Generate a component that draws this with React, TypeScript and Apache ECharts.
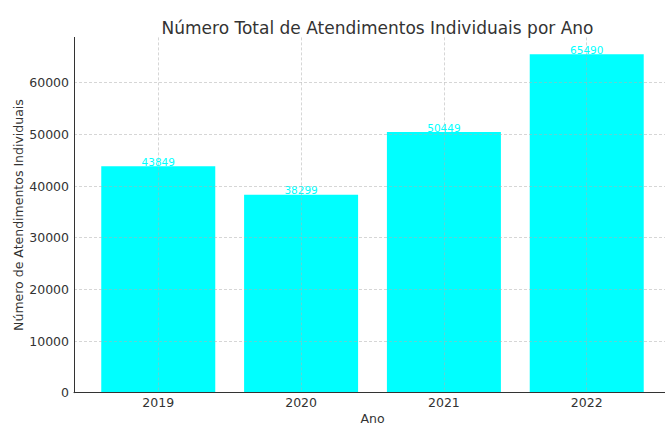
import React, { useEffect, useRef } from "react";
import * as echarts from "echarts";

const years = ["2019", "2020", "2021", "2022"];
const values = [43849, 38299, 50449, 65490];
const yMax = 68764.5;
const yInterval = 10000;

const FONT = "DejaVu Sans";
const TEXT = "#333333";
const BAR = "#00FFFF";
const GRIDC = "rgba(176,176,176,0.65)";

export default function App() {
  const ref = useRef<HTMLDivElement>(null);
  useEffect(() => {
    document.body.style.margin = "0";
    const chart = echarts.init(ref.current!, null, { renderer: "svg" });
    chart.setOption({
      animation: false,
      backgroundColor: "#ffffff",
      title: {
        text: "Número Total de Atendimentos Individuais por Ano",
        left: 372.5,
        top: 14,
        textAlign: "center",
        textStyle: { fontFamily: FONT, fontSize: 17, fontWeight: "normal", color: TEXT },
      },
      grid: {
        left: 74,
        top: 37.4,
        width: 597,
        bottom: 32.3,
        containLabel: false,
        outerBoundsMode: "none",
      },
      xAxis: {
        type: "value",
        min: -0.59,
        max: 3.59,
        z: 3,
        name: "Ano",
        nameLocation: "middle",
        nameGap: 19.5,
        nameMoveOverlap: false,
        nameTextStyle: { fontFamily: FONT, fontSize: 12.5, lineHeight: 12, color: TEXT },
        axisLine: { show: true, onZero: false, lineStyle: { color: TEXT, width: 1 } },
        axisTick: { show: false, customValues: [0, 1, 2, 3] },
        axisLabel: {
          customValues: [0, 1, 2, 3],
          formatter: (v: number) => years[Math.round(v)],
          fontFamily: FONT,
          fontSize: 12.5,
          color: TEXT,
          margin: 3,
        },
        splitLine: { show: true, lineStyle: { color: GRIDC, width: 0.8, type: [3, 2] } },
      },
      yAxis: {
        type: "value",
        min: 0,
        max: yMax,
        interval: yInterval,
        z: 3,
        name: "Número de Atendimentos Individuais",
        nameLocation: "middle",
        nameGap: 49,
        nameMoveOverlap: false,
        nameTextStyle: { fontFamily: FONT, fontSize: 12.5, color: TEXT },
        axisLine: { show: true, onZero: false, lineStyle: { color: TEXT, width: 1 } },
        axisTick: { show: false },
        axisLabel: {
          fontFamily: FONT,
          fontSize: 12.5,
          color: TEXT,
          margin: 5,
          showMaxLabel: false,
          formatter: (v: number) => String(v),
        },
        splitLine: {
          show: true,
          showMaxLine: false,
          lineStyle: { color: GRIDC, width: 0.8, type: [3, 2] },
        },
      },
      series: [
        {
          type: "bar",
          data: values.map((v, i) => [i, v]),
          barWidth: 114,
          itemStyle: { color: BAR },
          label: {
            show: true,
            position: "top",
            distance: -1,
            fontFamily: FONT,
            fontSize: 10.5,
            color: BAR,
            formatter: (p: any) => String(p.value[1]),
          },
        },
      ],
    });
    return () => chart.dispose();
  }, []);
  return <div ref={ref} style={{ width: 665, height: 425 }} />;
}
